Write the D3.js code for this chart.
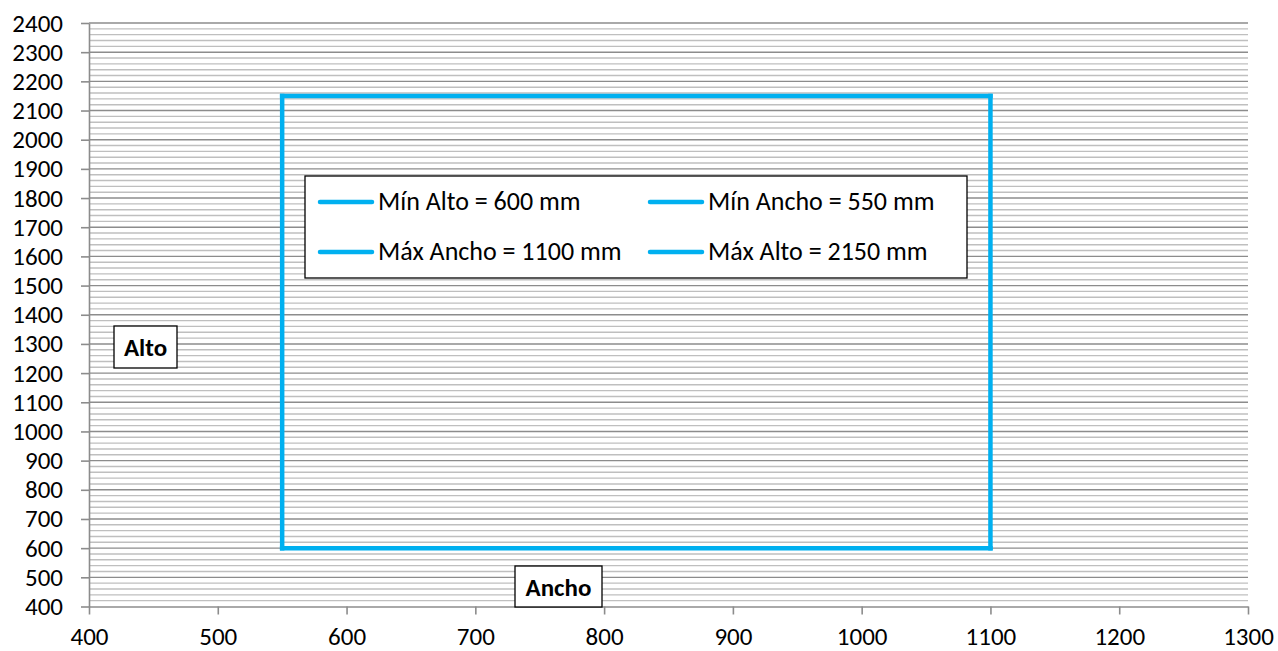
<!DOCTYPE html>
<html>
<head>
<meta charset="utf-8">
<script src="https://cdn.jsdelivr.net/npm/d3@7"></script>
<style>
body{margin:0;background:#fff;}
text{font-family:Calibri,Carlito,"Open Sans",sans-serif;}
</style>
</head>
<body>
<script>
var width=1278,height=651;

// data
var seriesNames = ["Mín Alto = 600 mm","Mín Ancho = 550 mm","Máx Ancho = 1100 mm","Máx Alto = 2150 mm"];
var seriesX = [[550,1100],[550,550],[1100,1100],[550,1100]];
var seriesY = [[600,600],[600,2150],[600,2150],[2150,2150]];
var xTicks = [400,500,600,700,800,900,1000,1100,1200,1300];
var yTicks = [400,500,600,700,800,900,1000,1100,1200,1300,1400,1500,1600,1700,1800,1900,2000,2100,2200,2300,2400];
var yMinor = d3.range(400,2401,20);

var margin = {left:89,right:30,top:23,bottom:44.5};
var svg = d3.select("body").append("svg")
	.attr("width", width).attr("height", height);

var x = d3.scaleLinear().domain([400,1300]).range([margin.left, width-margin.right]);
var y = d3.scaleLinear().domain([400,2400]).range([height-margin.bottom, margin.top]);

// minor gridlines
svg.append("g").selectAll("line").data(yMinor.filter(function(d){return d%100!=0;}))
	.enter().append("line")
	.attr("x1", x(400)).attr("x2", x(1300))
	.attr("y1", function(d){return y(d);}).attr("y2", function(d){return y(d);})
	.attr("stroke", "#bfbfbf").attr("stroke-width", 1.4);

// major gridlines
svg.append("g").selectAll("line").data(yTicks.slice(1))
	.enter().append("line")
	.attr("x1", x(400)).attr("x2", x(1300))
	.attr("y1", function(d){return y(d);}).attr("y2", function(d){return y(d);})
	.attr("stroke", "#8c8c8c").attr("stroke-width", 1.4);

// axes
var fmt = d3.format("d");
var xAxis = svg.append("g").attr("transform", "translate(0,"+y(400)+")")
	.call(d3.axisBottom(x).tickValues(xTicks).tickFormat(fmt).tickSize(8).tickPadding(13).tickSizeOuter(0));
var yAxis = svg.append("g").attr("transform", "translate("+x(400)+",0)")
	.call(d3.axisLeft(y).tickValues(yTicks).tickFormat(fmt).tickSize(8).tickPadding(18).tickSizeOuter(0));
[xAxis,yAxis].forEach(function(a){
	a.select(".domain").attr("stroke", "#8c8c8c").attr("stroke-width", 1.6);
	a.selectAll(".tick line").attr("stroke", "#8c8c8c").attr("stroke-width", 1.6);
	a.selectAll(".tick text").attr("fill", "#000").style("font-size", "25px")
		.style("font-family", "Calibri,Carlito,'Open Sans',sans-serif");
});

// series lines
var color = "#00b0f0";
var line = d3.line().x(function(d){return x(d[0]);}).y(function(d){return y(d[1]);});
svg.append("g").selectAll("path").data(seriesNames.map(function(n,i){
		return seriesX[i].map(function(v,j){return [v,seriesY[i][j]];});
	}))
	.enter().append("path")
	.attr("d", line)
	.attr("fill", "none").attr("stroke", color).attr("stroke-width", 4.5)
	.attr("stroke-linecap", "square");

// legend
var lg = svg.append("g").attr("transform", "translate(305,176)");
lg.append("rect").attr("width", 662).attr("height", 102)
	.attr("fill", "#fff").attr("stroke", "#000").attr("stroke-width", 1.3);
var item = lg.selectAll(".item").data(seriesNames).enter().append("g")
	.attr("class", "item")
	.attr("transform", function(d,i){return "translate("+(i%2?345:15)+","+(i<2?26:76)+")";});
item.append("line").attr("x1", 0).attr("x2", 52).attr("y1", 0).attr("y2", 0)
	.attr("stroke", color).attr("stroke-width", 4.5).attr("stroke-linecap", "round");
item.append("text").attr("x", 58).attr("y", 8).style("font-size", "26px").text(function(d){return d;});

// axis title boxes
function titleBox(t, bx, by, bw, bh){
	var g = svg.append("g").attr("transform", "translate("+bx+","+by+")");
	g.append("rect").attr("width", bw).attr("height", bh)
		.attr("fill", "#fff").attr("stroke", "#000").attr("stroke-width", 1.3);
	g.append("text").attr("x", bw/2).attr("y", bh/2+9).attr("text-anchor", "middle")
		.style("font-size", "25px").style("font-weight", "bold").text(t);
}
titleBox("Alto", 114, 326, 63, 42);
titleBox("Ancho", 515, 566, 87, 41);
</script>
</body>
</html>
